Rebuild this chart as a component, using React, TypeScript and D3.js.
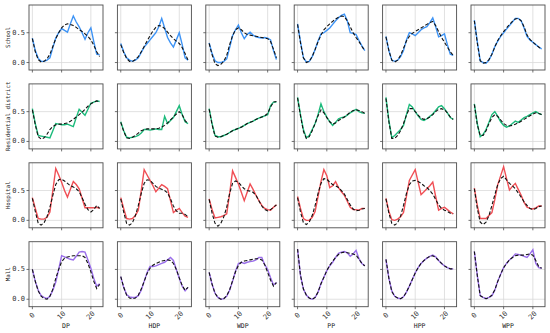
import React from 'react'
import * as d3 from 'd3'

const hours = d3.range(24)
const methods = ['DP', 'HDP', 'WDP', 'PP', 'HPP', 'WPP']
const places = ['School', 'Residential district', 'Hospital', 'Mall']
const placeColors = ['#3d93f5', '#1dbb7c', '#f04f55', '#9a6eea']
const xTicks = [0, 10, 20]
const yTicks = [0, 0.5]

// observed series, one array per method (DP, HDP, WDP, PP, HPP, WPP)
const schoolObs = [
  [0.41, 0.2, 0.07, 0.02, 0.02, 0.04, 0.08, 0.25, 0.41, 0.5, 0.57, 0.54, 0.51, 0.65, 0.78, 0.68, 0.6, 0.5, 0.39, 0.5, 0.58, 0.35, 0.14, 0.13],
  [0.32, 0.18, 0.08, 0.04, 0.02, 0.04, 0.08, 0.17, 0.26, 0.32, 0.38, 0.44, 0.5, 0.6, 0.74, 0.58, 0.42, 0.33, 0.26, 0.38, 0.5, 0.3, 0.08, 0.04],
  [0.33, 0.15, 0.03, 0.0, 0.0, 0.02, 0.06, 0.25, 0.45, 0.55, 0.63, 0.5, 0.4, 0.47, 0.51, 0.46, 0.43, 0.42, 0.41, 0.42, 0.41, 0.38, 0.2, 0.05],
  [0.65, 0.35, 0.08, 0.01, 0.02, 0.1, 0.22, 0.36, 0.48, 0.5, 0.54, 0.58, 0.64, 0.7, 0.75, 0.79, 0.81, 0.7, 0.5, 0.49, 0.47, 0.37, 0.28, 0.2],
  [0.44, 0.2, 0.04, 0.02, 0.04, 0.1, 0.2, 0.38, 0.5, 0.48, 0.45, 0.5, 0.55, 0.58, 0.6, 0.67, 0.75, 0.6, 0.43, 0.45, 0.48, 0.3, 0.14, 0.12],
  [0.71, 0.35, 0.03, 0.0, -0.01, 0.04, 0.14, 0.27, 0.36, 0.44, 0.5, 0.56, 0.62, 0.68, 0.74, 0.74, 0.7, 0.58, 0.44, 0.38, 0.34, 0.3, 0.26, 0.23],
]
const schoolFit = [
  [0.4, 0.18, 0.05, 0.01, 0.02, 0.06, 0.14, 0.27, 0.4, 0.5, 0.58, 0.63, 0.65, 0.64, 0.62, 0.59, 0.55, 0.52, 0.48, 0.44, 0.38, 0.29, 0.18, 0.1],
  [0.3, 0.17, 0.07, 0.02, 0.02, 0.05, 0.1, 0.18, 0.27, 0.36, 0.45, 0.53, 0.59, 0.62, 0.61, 0.57, 0.51, 0.45, 0.4, 0.36, 0.32, 0.25, 0.15, 0.04],
  [0.32, 0.13, -0.02, -0.05, -0.03, 0.02, 0.12, 0.3, 0.45, 0.55, 0.58, 0.55, 0.5, 0.47, 0.46, 0.45, 0.44, 0.43, 0.42, 0.41, 0.4, 0.35, 0.22, 0.08],
  [0.64, 0.33, 0.08, 0.0, 0.02, 0.1, 0.22, 0.35, 0.46, 0.55, 0.6, 0.65, 0.69, 0.73, 0.76, 0.78, 0.77, 0.7, 0.6, 0.5, 0.42, 0.35, 0.27, 0.2],
  [0.43, 0.2, 0.04, 0.01, 0.04, 0.12, 0.24, 0.36, 0.44, 0.49, 0.52, 0.55, 0.58, 0.61, 0.64, 0.67, 0.69, 0.62, 0.52, 0.42, 0.34, 0.26, 0.18, 0.12],
  [0.7, 0.33, 0.03, -0.01, 0.0, 0.05, 0.14, 0.26, 0.37, 0.45, 0.52, 0.58, 0.64, 0.69, 0.73, 0.74, 0.7, 0.6, 0.46, 0.39, 0.34, 0.3, 0.26, 0.22],
]

const residentialObs = [
  [0.55, 0.3, 0.1, 0.09, 0.08, 0.07, 0.06, 0.18, 0.3, 0.29, 0.28, 0.28, 0.29, 0.27, 0.25, 0.4, 0.54, 0.49, 0.44, 0.54, 0.64, 0.66, 0.68, 0.67],
  [0.33, 0.18, 0.07, 0.06, 0.07, 0.08, 0.1, 0.14, 0.2, 0.2, 0.19, 0.2, 0.21, 0.2, 0.2, 0.42, 0.3, 0.35, 0.4, 0.5, 0.6, 0.45, 0.33, 0.3],
  [0.55, 0.3, 0.1, 0.08, 0.08, 0.1, 0.12, 0.15, 0.18, 0.2, 0.22, 0.24, 0.27, 0.3, 0.32, 0.34, 0.37, 0.39, 0.41, 0.43, 0.45, 0.6, 0.66, 0.66],
  [0.74, 0.45, 0.2, 0.06, 0.1, 0.2, 0.3, 0.45, 0.63, 0.5, 0.41, 0.33, 0.27, 0.32, 0.38, 0.4, 0.41, 0.44, 0.48, 0.51, 0.54, 0.5, 0.48, 0.47],
  [0.74, 0.35, 0.06, 0.1, 0.15, 0.2, 0.27, 0.45, 0.62, 0.58, 0.5, 0.43, 0.37, 0.35, 0.38, 0.42, 0.46, 0.52, 0.58, 0.6, 0.55, 0.48, 0.4, 0.37],
  [0.63, 0.3, 0.08, 0.12, 0.2, 0.32, 0.45, 0.5, 0.42, 0.33, 0.27, 0.24, 0.26, 0.3, 0.34, 0.32, 0.36, 0.4, 0.42, 0.45, 0.48, 0.5, 0.47, 0.45],
]
const residentialFit = [
  [0.53, 0.28, 0.08, 0.04, 0.06, 0.12, 0.2, 0.25, 0.28, 0.29, 0.29, 0.3, 0.31, 0.34, 0.37, 0.41, 0.45, 0.49, 0.54, 0.59, 0.63, 0.66, 0.68, 0.67],
  [0.32, 0.17, 0.06, 0.05, 0.07, 0.1, 0.14, 0.18, 0.2, 0.21, 0.21, 0.21, 0.21, 0.22, 0.24, 0.27, 0.31, 0.36, 0.41, 0.46, 0.5, 0.45, 0.35, 0.3],
  [0.54, 0.28, 0.09, 0.07, 0.08, 0.1, 0.12, 0.15, 0.18, 0.2, 0.22, 0.24, 0.27, 0.3, 0.32, 0.34, 0.37, 0.39, 0.41, 0.43, 0.47, 0.58, 0.66, 0.67],
  [0.73, 0.43, 0.17, 0.05, 0.08, 0.18, 0.3, 0.43, 0.53, 0.48, 0.4, 0.33, 0.29, 0.31, 0.35, 0.38, 0.41, 0.45, 0.49, 0.52, 0.53, 0.52, 0.5, 0.47],
  [0.72, 0.33, 0.05, 0.05, 0.1, 0.18, 0.3, 0.44, 0.55, 0.55, 0.5, 0.44, 0.39, 0.37, 0.38, 0.41, 0.45, 0.5, 0.54, 0.55, 0.53, 0.48, 0.41, 0.37],
  [0.62, 0.28, 0.1, 0.1, 0.18, 0.3, 0.4, 0.45, 0.42, 0.36, 0.3, 0.27, 0.26, 0.27, 0.29, 0.31, 0.34, 0.37, 0.4, 0.43, 0.46, 0.48, 0.47, 0.45],
]

const hospitalObs = [
  [0.38, 0.2, 0.03, 0.02, 0.02, 0.05, 0.14, 0.5, 0.87, 0.76, 0.64, 0.5, 0.39, 0.52, 0.65, 0.6, 0.53, 0.37, 0.21, 0.21, 0.21, 0.21, 0.22, 0.2],
  [0.38, 0.2, 0.03, 0.02, 0.03, 0.08, 0.17, 0.5, 0.85, 0.76, 0.67, 0.58, 0.48, 0.54, 0.6, 0.57, 0.53, 0.33, 0.13, 0.17, 0.2, 0.13, 0.07, 0.05],
  [0.36, 0.18, 0.04, 0.05, 0.06, 0.08, 0.11, 0.45, 0.83, 0.72, 0.61, 0.47, 0.33, 0.47, 0.61, 0.52, 0.42, 0.33, 0.25, 0.2, 0.18, 0.17, 0.22, 0.26],
  [0.4, 0.2, 0.03, 0.0, 0.0, 0.05, 0.15, 0.4, 0.65, 0.85, 0.75, 0.55, 0.58, 0.65, 0.55, 0.48, 0.42, 0.32, 0.22, 0.18, 0.18, 0.17, 0.2, 0.2],
  [0.37, 0.15, 0.01, 0.0, 0.02, 0.06, 0.13, 0.4, 0.67, 0.76, 0.85, 0.64, 0.43, 0.48, 0.53, 0.58, 0.64, 0.4, 0.17, 0.2, 0.22, 0.18, 0.14, 0.11],
  [0.54, 0.25, 0.03, 0.03, 0.03, 0.08, 0.13, 0.35, 0.6, 0.75, 0.9, 0.7, 0.51, 0.57, 0.62, 0.52, 0.42, 0.3, 0.22, 0.2, 0.19, 0.21, 0.24, 0.24],
]
const hospitalFit = [
  [0.37, 0.15, -0.05, -0.08, -0.04, 0.06, 0.22, 0.42, 0.6, 0.68, 0.69, 0.66, 0.62, 0.58, 0.56, 0.53, 0.48, 0.38, 0.27, 0.18, 0.14, 0.18, 0.25, 0.2],
  [0.36, 0.14, -0.05, -0.08, -0.04, 0.08, 0.25, 0.45, 0.62, 0.68, 0.67, 0.62, 0.57, 0.54, 0.52, 0.5, 0.46, 0.36, 0.24, 0.16, 0.12, 0.12, 0.1, 0.06],
  [0.35, 0.12, -0.05, -0.1, -0.05, 0.06, 0.22, 0.45, 0.62, 0.66, 0.64, 0.58, 0.53, 0.5, 0.49, 0.47, 0.42, 0.33, 0.24, 0.18, 0.16, 0.18, 0.22, 0.26],
  [0.38, 0.14, -0.04, -0.07, -0.03, 0.08, 0.25, 0.45, 0.62, 0.7, 0.69, 0.64, 0.6, 0.58, 0.55, 0.5, 0.44, 0.35, 0.26, 0.19, 0.16, 0.17, 0.19, 0.2],
  [0.36, 0.12, -0.05, -0.08, -0.04, 0.07, 0.25, 0.45, 0.6, 0.66, 0.67, 0.65, 0.62, 0.58, 0.55, 0.5, 0.44, 0.35, 0.26, 0.2, 0.17, 0.15, 0.12, 0.11],
  [0.53, 0.2, -0.03, -0.07, -0.03, 0.08, 0.25, 0.43, 0.6, 0.7, 0.74, 0.68, 0.62, 0.58, 0.53, 0.46, 0.39, 0.31, 0.25, 0.2, 0.18, 0.2, 0.23, 0.24],
]

const mallObs = [
  [0.5, 0.3, 0.15, 0.06, 0.03, 0.01, 0.05, 0.15, 0.29, 0.5, 0.73, 0.71, 0.69, 0.67, 0.66, 0.72, 0.79, 0.8, 0.79, 0.66, 0.52, 0.35, 0.22, 0.26],
  [0.38, 0.2, 0.08, 0.04, 0.03, 0.03, 0.06, 0.15, 0.3, 0.45, 0.55, 0.55, 0.56, 0.58, 0.6, 0.62, 0.66, 0.7, 0.65, 0.5, 0.35, 0.22, 0.14, 0.2],
  [0.45, 0.25, 0.1, 0.03, 0.0, 0.01, 0.05, 0.15, 0.3, 0.47, 0.6, 0.62, 0.6, 0.62, 0.63, 0.64, 0.66, 0.7, 0.7, 0.58, 0.5, 0.36, 0.24, 0.28],
  [0.84, 0.4, 0.17, 0.07, 0.02, 0.0, 0.03, 0.12, 0.26, 0.37, 0.48, 0.56, 0.62, 0.7, 0.77, 0.79, 0.8, 0.78, 0.72, 0.76, 0.82, 0.68, 0.6, 0.56],
  [0.67, 0.35, 0.14, 0.05, 0.02, 0.01, 0.04, 0.12, 0.22, 0.33, 0.44, 0.53, 0.6, 0.65, 0.69, 0.72, 0.74, 0.71, 0.65, 0.6, 0.56, 0.53, 0.51, 0.51],
  [0.8, 0.4, 0.06, 0.03, 0.01, 0.03, 0.06, 0.15, 0.3, 0.42, 0.53, 0.6, 0.66, 0.7, 0.76, 0.75, 0.74, 0.72, 0.7, 0.76, 0.83, 0.6, 0.53, 0.52],
]
const mallFit = [
  [0.5, 0.3, 0.14, 0.05, 0.01, 0.0, 0.05, 0.17, 0.35, 0.5, 0.63, 0.69, 0.71, 0.72, 0.73, 0.73, 0.73, 0.73, 0.7, 0.6, 0.46, 0.3, 0.18, 0.25],
  [0.38, 0.2, 0.07, 0.02, 0.01, 0.02, 0.07, 0.17, 0.3, 0.43, 0.52, 0.57, 0.6, 0.62, 0.64, 0.65, 0.66, 0.65, 0.6, 0.5, 0.36, 0.23, 0.15, 0.2],
  [0.45, 0.25, 0.1, 0.03, 0.0, 0.01, 0.06, 0.16, 0.31, 0.46, 0.57, 0.62, 0.64, 0.65, 0.66, 0.67, 0.68, 0.68, 0.66, 0.58, 0.45, 0.32, 0.22, 0.28],
  [0.84, 0.4, 0.17, 0.07, 0.02, 0.0, 0.03, 0.12, 0.26, 0.37, 0.48, 0.57, 0.64, 0.7, 0.75, 0.78, 0.79, 0.78, 0.77, 0.76, 0.74, 0.67, 0.6, 0.56],
  [0.67, 0.35, 0.13, 0.05, 0.02, 0.01, 0.04, 0.12, 0.22, 0.33, 0.44, 0.53, 0.6, 0.65, 0.69, 0.72, 0.73, 0.7, 0.65, 0.6, 0.56, 0.53, 0.51, 0.51],
  [0.8, 0.4, 0.06, 0.03, 0.01, 0.03, 0.07, 0.16, 0.3, 0.42, 0.53, 0.6, 0.66, 0.7, 0.73, 0.74, 0.74, 0.74, 0.75, 0.76, 0.74, 0.65, 0.55, 0.52],
]

const observed = [schoolObs, residentialObs, hospitalObs, mallObs]
const fitted = [schoolFit, residentialFit, hospitalFit, mallFit]

const W = 550
const H = 333
const left0 = 29
const colStep = 88.4
const panelW = 74
const top0 = 5
const rowStep = 78.9
const panelH = 65
const font = "'DejaVu Sans Mono', monospace"

function Panel({ row, col }: { row: number; col: number }) {
  const px = left0 + col * colStep
  const py = top0 + row * rowStep
  const x = d3.scaleLinear().domain([-1.15, 24.15]).range([px, px + panelW])
  const y = d3.scaleLinear().domain([-0.125, 0.965]).range([py + panelH, py])
  const line = d3.line<number>().x((_, i) => x(hours[i])).y(d => y(d))
  const obs = observed[row][col]
  const fit = fitted[row][col]
  const last = row === places.length - 1
  return (
    <g>
      <rect x={px} y={py} width={panelW} height={panelH} fill="#fff" />
      {xTicks.map(t => (
        <line key={'gx' + t} x1={x(t)} x2={x(t)} y1={py} y2={py + panelH} stroke="#d9d9d9" strokeWidth={0.8} />
      ))}
      {yTicks.map(t => (
        <line key={'gy' + t} x1={px} x2={px + panelW} y1={y(t)} y2={y(t)} stroke="#d9d9d9" strokeWidth={0.8} />
      ))}
      <path d={line(obs) || ''} fill="none" stroke={placeColors[row]} strokeWidth={1.4} />
      <path d={line(fit) || ''} fill="none" stroke="#111" strokeWidth={1.1} strokeDasharray="3.5,2" />
      <rect x={px} y={py} width={panelW} height={panelH} fill="none" stroke="#4d4d4d" strokeWidth={0.9} />
      {xTicks.map(t => (
        <line key={'tx' + t} x1={x(t)} x2={x(t)} y1={py + panelH} y2={py + panelH + 2.5} stroke="#4d4d4d" strokeWidth={0.8} />
      ))}
      {yTicks.map(t => (
        <line key={'ty' + t} x1={px - 2.5} x2={px} y1={y(t)} y2={y(t)} stroke="#4d4d4d" strokeWidth={0.8} />
      ))}
      {col === 0 && yTicks.map(t => (
        <text key={'ly' + t} x={px - 4} y={y(t)} textAnchor="end" dominantBaseline="central" fontSize={7} fill="#333">
          {d3.format('.1f')(t)}
        </text>
      ))}
      {col === 0 && (
        <text transform={`translate(8,${py + panelH / 2}) rotate(-90)`} textAnchor="middle" dominantBaseline="central" fontSize={5.8} fill="#222">
          {places[row]}
        </text>
      )}
      {last && xTicks.map(t => (
        <text key={'lx' + t} transform={`translate(${x(t)},${py + panelH + 9}) rotate(-45)`} textAnchor="middle" dominantBaseline="central" fontSize={7} fill="#333">
          {t}
        </text>
      ))}
      {last && (
        <text x={px + panelW / 2} y={py + panelH + 19} textAnchor="middle" dominantBaseline="central" fontSize={6.5} fill="#222">
          {methods[col]}
        </text>
      )}
    </g>
  )
}

export default function App() {
  return (
    <svg width={W} height={H} viewBox={`0 0 ${W} ${H}`} style={{ position: 'absolute', left: 0, top: 0, background: '#fff' }} fontFamily={font}>
      {places.map((_, r) => methods.map((_, c) => <Panel key={r + '-' + c} row={r} col={c} />))}
    </svg>
  )
}
